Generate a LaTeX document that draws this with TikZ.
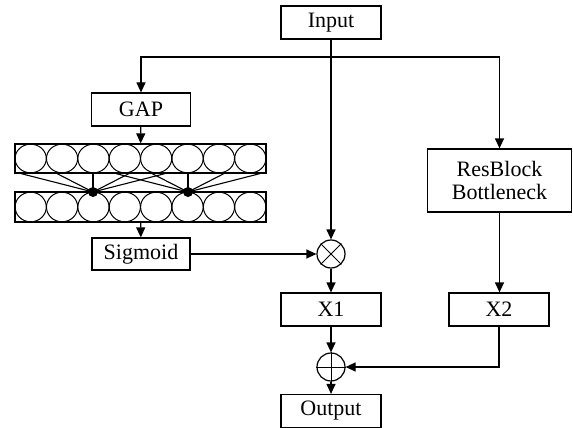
\documentclass[tikz,border=0pt]{standalone}
\usepackage{fontspec}
\setmainfont{Liberation Serif}
\usetikzlibrary{arrows.meta}

\tikzset{
  box/.style={draw, line width=1.2pt, inner sep=0pt, minimum width=100pt, minimum height=33pt,
    font=\fontsize{22}{23}\selectfont, align=center},
  op/.style={draw, circle, line width=1.2pt, inner sep=0pt, minimum size=28pt},
  arr/.style={line width=1.2pt, -{Triangle[length=10pt,width=9pt]}},
  conn/.style={line width=1.1pt},
  dot/.style={circle, fill=black, inner sep=0pt, minimum size=10pt}
}

\begin{document}
\begin{tikzpicture}[x=1pt,y=-1pt]
        \useasboundingbox (0,0) rectangle (573,428);
        \node[box] (input) at (331,22.5) {Input};
        \coordinate (split) at (331,57);
        \node[box, minimum width=99pt] (gap) at (141,109.5) {GAP};
        \node[draw, line width=1.2pt, minimum width=251pt, minimum height=29pt, inner sep=0pt] (row1) at (140.5,158.5) {};
        \node[draw, line width=1.2pt, minimum width=251pt, minimum height=30pt, inner sep=0pt] (row2) at (140.5,207) {};
        \foreach \i in {0,...,7} {
            \pgfmathsetmacro{\cx}{15+31.375*(\i+0.5)}
            \draw[line width=1pt] (\cx,158.5) ellipse [x radius=15.6pt, y radius=14.3pt];
            \draw[line width=1pt] (\cx,207) ellipse [x radius=15.6pt, y radius=14.8pt];
        }
        \node[dot] (d1) at (93,192) {};
        \node[dot] (d2) at (188,192) {};
        \foreach \dx in {-72,-36,0,36,72} {
            \draw[conn] (d1.center) -- ([xshift=\dx pt]d1.center |- row1.south);
            \draw[conn] (d2.center) -- ([xshift=\dx pt]d2.center |- row1.south);
        }
        \node[box, minimum width=98pt, minimum height=32pt] (sigmoid) at (141,254) {Sigmoid};
        \node[op] (mul) at (331,254) {};
        \draw[line width=1pt] (mul.north west) -- (mul.south east) (mul.north east) -- (mul.south west);
        \node[box, minimum width=144pt, minimum height=63pt] (res) at (499.5,180.5) {ResBlock\\Bottleneck};
        \node[box] (x1) at (331,309.5) {X1};
        \node[box] (x2) at (499,309.5) {X2};
        \node[op] (add) at (331,367) {};
        \draw[line width=1pt] (add.north) -- (add.south) (add.west) -- (add.east);
        \node[box] (output) at (331,411) {Output};
        \draw[arr] (input) -- (mul);
        \draw[arr] (split) -| (gap);
        \draw[arr] (split) -| (res);
        \draw[arr] (gap) -- (row1);
        \draw[arr] (row2) -- (sigmoid);
        \draw[arr] (sigmoid) -- (mul);
        \draw[arr] (res) -- (x2.north -| res);
        \draw[arr] (mul) -- (x1);
        \draw[arr] (x1) -- (add);
        \draw[arr] (x2) |- (add);
        \draw[arr] (add) -- (output);
    \end{tikzpicture}
\end{document}
